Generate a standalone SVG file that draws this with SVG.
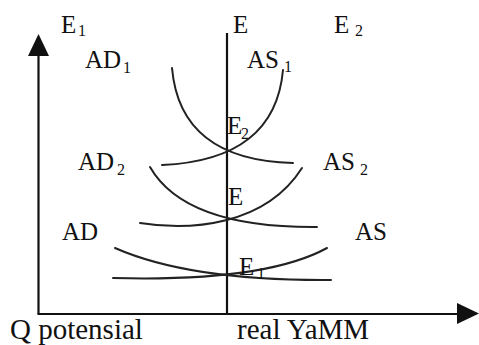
<svg xmlns="http://www.w3.org/2000/svg" width="479" height="345" viewBox="0 0 479 345">
<style>
.ax{stroke:#111;stroke-width:2.2;fill:none}
.cv{stroke:#222;stroke-width:2;fill:none;stroke-linecap:round}
</style>
<rect width="479" height="345" fill="#fff"/>
<g id="axes">
<line class="ax" x1="38.5" y1="314" x2="38.5" y2="50"/>
<polygon points="38.5,34 28,56 49,56" fill="#111"/>
<line class="ax" x1="37.5" y1="314" x2="462" y2="314"/>
<polygon points="479,313.5 457,303 457,324" fill="#111"/>
<line class="ax" x1="227" y1="33" x2="227" y2="314"/>
</g>
<g id="connectors">
<path id="AD1" class="cv" d="M172,68 Q180,160 293,163"/>
<path id="AS1" class="cv" d="M162,165 Q275,160 283,70"/>
<path id="AD2" class="cv" d="M150,167 Q185,228 317,227"/>
<path id="AS2" class="cv" d="M140,223 C190,231 265,226 302,168"/>
<path id="ADc" class="cv" d="M115,248 Q190,281 331,280"/>
<path id="ASc" class="cv" d="M113,278 Q265,282 327,248"/>
</g>
<g id="labels" fill="#111">
<g id="lbl-E1-top"><text font-family="Liberation Serif" font-size="25" x="61" y="33">E</text><text font-family="Liberation Serif" font-size="16" x="78" y="36">1</text></g>
<g id="lbl-E-top"><text font-family="Liberation Serif" font-size="25" x="233" y="33">E</text></g>
<g id="lbl-E2-top"><text font-family="Liberation Serif" font-size="25" x="334" y="33">E</text><text font-family="Liberation Serif" font-size="16" x="355" y="36">2</text></g>
<g id="lbl-AD1"><text font-family="Liberation Serif" font-size="25" x="85" y="68">AD</text><text font-family="Liberation Serif" font-size="16" x="123" y="73">1</text></g>
<g id="lbl-AS1"><text font-family="Liberation Serif" font-size="25" x="247" y="68">AS</text><text font-family="Liberation Serif" font-size="16" x="284" y="72">1</text></g>
<g id="lbl-E2"><text font-family="Liberation Serif" font-size="25" x="227" y="134">E</text><text font-family="Liberation Serif" font-size="16" x="241" y="139">2</text></g>
<g id="lbl-AD2"><text font-family="Liberation Serif" font-size="25" x="78" y="170">AD</text><text font-family="Liberation Serif" font-size="16" x="117" y="175">2</text></g>
<g id="lbl-AS2"><text font-family="Liberation Serif" font-size="25" x="323" y="170">AS</text><text font-family="Liberation Serif" font-size="16" x="360" y="175">2</text></g>
<g id="lbl-E"><text font-family="Liberation Serif" font-size="25" x="228" y="205">E</text></g>
<g id="lbl-AD"><text font-family="Liberation Serif" font-size="25" x="62" y="240">AD</text></g>
<g id="lbl-AS"><text font-family="Liberation Serif" font-size="25" x="355" y="240">AS</text></g>
<g id="lbl-E1"><text font-family="Liberation Serif" font-size="25" x="239" y="275">E</text><text font-family="Liberation Serif" font-size="16" x="257" y="279">1</text></g>
<g id="lbl-bottom"><text font-family="Liberation Serif" font-size="29" x="10" y="339">Q potensial</text><text font-family="Liberation Serif" font-size="29" x="237" y="339">real YaMM</text></g>
</g>
</svg>
